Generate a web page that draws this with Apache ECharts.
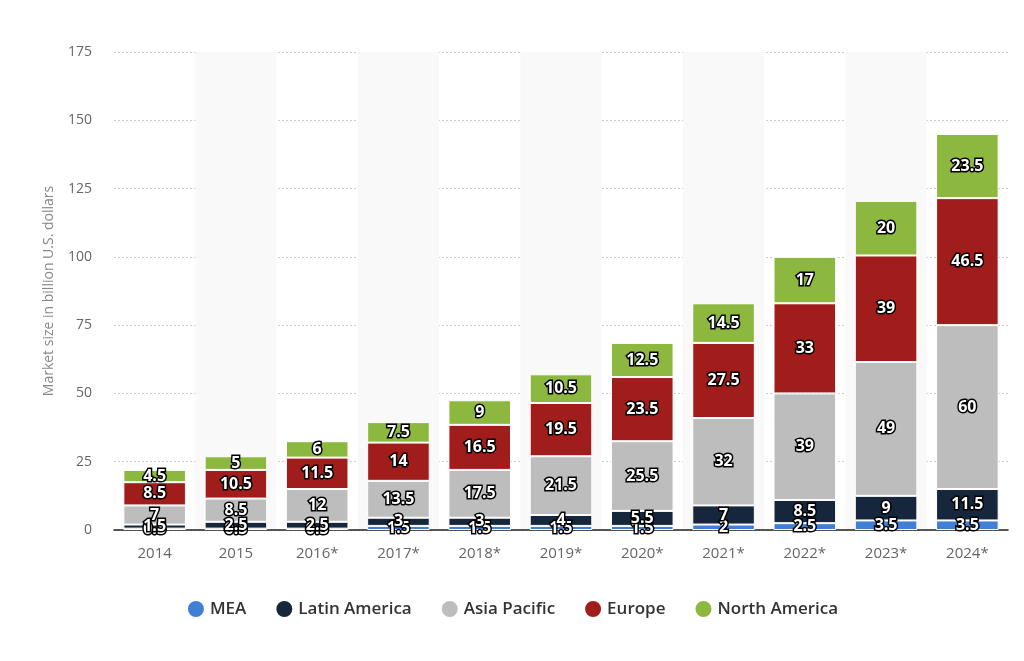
<!DOCTYPE html>
<html><head><meta charset="utf-8">
<script src="https://cdn.jsdelivr.net/npm/echarts@6/dist/echarts.min.js"></script>
<style>html,body{margin:0;padding:0;background:#fff}#c{width:1024px;height:661px}</style>
</head><body><div id="c"></div>
<script>
const categories = ['2014','2015','2016*','2017*','2018*','2019*','2020*','2021*','2022*','2023*','2024*'];
const mea = [0.5,0.5,0.5,1.5,1.5,1.5,1.5,2,2.5,3.5,3.5];
const latinAmerica = [1.5,2.5,2.5,3,3,4,5.5,7,8.5,9,11.5];
const asiaPacific = [7,8.5,12,13.5,17.5,21.5,25.5,32,39,49,60];
const europe = [8.5,10.5,11.5,14,16.5,19.5,23.5,27.5,33,39,46.5];
const northAmerica = [4.5,5,6,7.5,9,10.5,12.5,14.5,17,20,23.5];
const yTicks = [0,25,50,75,100,125,150,175];

const names = ['MEA','Latin America','Asia Pacific','Europe','North America'];
const colors = ['#3f7fd6','#15263d','#bdbdbd','#a01d1b','#8cb83f'];
const datasets = [mea, latinAmerica, asiaPacific, europe, northAmerica];

const chart = echarts.init(document.getElementById('c'));
chart.setOption({
  animation:false,
  textStyle:{fontFamily:'Open Sans'},
  grid:{left:114,right:16,top:52,bottom:131},
  legend:{bottom:37,left:'center',icon:'circle',itemWidth:18,itemHeight:18,itemGap:28,
    textStyle:{fontSize:17,color:'#333',fontWeight:600,fontFamily:'Open Sans'},data:names},
  xAxis:{type:'category',data:categories,
    axisLine:{lineStyle:{color:'#222',width:1.5}},axisTick:{show:false},
    axisLabel:{color:'#666',fontSize:15,margin:16},
    splitArea:{show:true,areaStyle:{color:['rgba(0,0,0,0)','#f9f9f9']}}},
  yAxis:{type:'value',min:0,max:175,interval:25,
    name:'Market size in billion U.S. dollars',nameLocation:'middle',nameGap:58,
    nameTextStyle:{color:'#888',fontSize:14},
    axisLabel:{color:'#666',fontSize:14,margin:22,formatter:v=>yTicks.includes(v)?String(v):''},
    axisLine:{show:false},axisTick:{show:false},
    splitLine:{lineStyle:{color:'#ccc',type:[2,2]}}},
  series: datasets.map((d,i)=>({
    name:names[i],type:'bar',stack:'total',data:d,barWidth:'77%',
    itemStyle:{color:colors[i],borderColor:'#fff',borderWidth:1},
    label:{show:true,position:'inside',color:'#fff',fontSize:16,fontWeight:'bold',
      textBorderColor:'#000',textBorderWidth:3,fontFamily:'Open Sans'}
  }))
});
</script></body></html>
